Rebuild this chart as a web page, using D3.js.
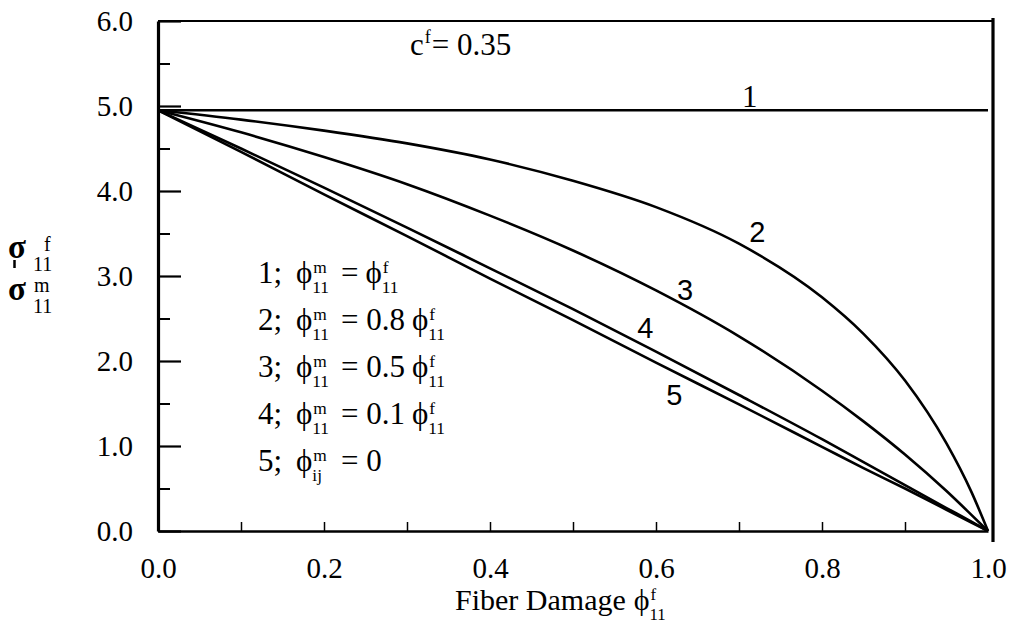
<!DOCTYPE html>
<html>
<head>
<meta charset="utf-8">
<script src="https://cdn.jsdelivr.net/npm/d3@7/dist/d3.min.js"></script>
<style>
  body { margin: 0; background: #fff; }
</style>
</head>
<body>
<div id="chart"></div>
<script>
// fiber damage values (x) at which the curves were read
const damage = [0, 0.1, 0.2, 0.3, 0.4, 0.5, 0.6, 0.7, 0.8, 0.85, 0.9, 0.95, 0.98, 1.0];

// stress ratio
const curve1 = [4.95, 4.95, 4.95, 4.95, 4.95, 4.95, 4.95, 4.95, 4.95, 4.95, 4.95, 4.95, 4.95, 4.95];
const curve2 = [4.95, 4.84, 4.71, 4.56, 4.37, 4.12, 3.81, 3.38, 2.75, 2.32, 1.77, 1.03, 0.46, 0];
const curve3 = [4.95, 4.69, 4.40, 4.08, 3.71, 3.30, 2.83, 2.29, 1.65, 1.29, 0.90, 0.47, 0.19, 0];
const curve4 = [4.95, 4.50, 4.04, 3.57, 3.09, 2.61, 2.11, 1.60, 1.08, 0.81, 0.54, 0.27, 0.11, 0];
const curve5 = [4.95, 4.46, 3.96, 3.47, 2.97, 2.48, 1.98, 1.49, 0.99, 0.74, 0.50, 0.25, 0.10, 0];
const curveNames = ['1', '2', '3', '4', '5'];

const yMajor = [0, 1, 2, 3, 4, 5, 6];
const yMinor = [0.5, 1.5, 2.5, 3.5, 4.5, 5.5];
const xLabels = [0, 0.2, 0.4, 0.6, 0.8, 1.0];
const xMinor = [0.1, 0.2, 0.3, 0.4, 0.5, 0.6, 0.7, 0.8, 0.9];

// legend rows
const legendNums = ['1;', '2;', '3;', '4;', '5;'];
const legendSub = ['11', '11', '11', '11', 'ij'];
const legendCoef = ['', '0.8', '0.5', '0.1', '0'];
const legendPhiF = [true, true, true, true, false];

const SERIF = '"Liberation Serif", "Times New Roman", serif';
const SANS = '"Liberation Sans", Arial, sans-serif';

const margin = { top: 21, right: 25, bottom: 103, left: 158 };
const W = 1013, H = 634;
const width = W - margin.left - margin.right;   // 830
const height = H - margin.top - margin.bottom;  // 510

const svg = d3.select('#chart').append('svg')
    .attr('width', W)
    .attr('height', H);

const g = svg.append('g')
    .attr('transform', `translate(${margin.left},${margin.top})`);

const x = d3.scaleLinear().domain([0, 1]).range([0, width]);
const y = d3.scaleLinear().domain([0, 6]).range([height, 0]);

function txt(parent, px, py, s, size, family) {
    return parent.append('text')
        .attr('x', px).attr('y', py)
        .style('font-family', family || SERIF)
        .style('font-size', size + 'px')
        .attr('fill', '#000')
        .text(s);
}

// frame: top line and heavy right line
g.append('line')
    .attr('x1', 0).attr('x2', width + 4)
    .attr('y1', 0).attr('y2', 0)
    .attr('stroke', '#000').attr('stroke-width', 2);
g.append('line')
    .attr('x1', width + 5).attr('x2', width + 5)
    .attr('y1', -3).attr('y2', height + 11)
    .attr('stroke', '#000').attr('stroke-width', 3.2);

// y axis
g.append('g')
    .attr('class', 'y axis')
    .call(d3.axisLeft(y).tickValues(yMajor).tickSize(-23).tickSizeOuter(0)
        .tickPadding(25).tickFormat(d3.format('.1f')))
    .attr('font-family', null)
    .call(a => a.select('.domain').attr('stroke-width', 3.2))
    .call(a => a.selectAll('.tick line').attr('stroke-width', 2.2))
    .call(a => a.selectAll('text').style('font-family', SERIF).style('font-size', '29px').attr('fill', '#000'));

g.append('g')
    .call(d3.axisLeft(y).tickValues(yMinor).tickSize(-12).tickSizeOuter(0).tickFormat(''))
    .call(a => a.select('.domain').remove())
    .call(a => a.selectAll('.tick line').attr('stroke-width', 2));

// x axis
g.append('g')
    .attr('class', 'x axis')
    .attr('transform', `translate(0,${height})`)
    .call(d3.axisBottom(x).tickValues(xLabels).tickSize(0).tickSizeOuter(0)
        .tickPadding(26).tickFormat(d3.format('.1f')))
    .attr('font-family', null)
    .call(a => a.select('.domain').attr('stroke-width', 2.4))
    .call(a => a.selectAll('text').style('font-family', SERIF).style('font-size', '29px').attr('fill', '#000'));

g.append('g')
    .attr('transform', `translate(0,${height})`)
    .call(d3.axisBottom(x).tickValues(xMinor).tickSize(-9).tickSizeOuter(0).tickFormat(''))
    .call(a => a.select('.domain').remove())
    .call(a => a.selectAll('.tick line').attr('stroke-width', 1.5));

// curves
const line = d3.line()
    .x((d, i) => x(damage[i]))
    .y(d => y(d))
    .curve(d3.curveMonotoneX);

[curve1, curve2, curve3, curve4, curve5].forEach(c => {
    g.append('path')
        .datum(c)
        .attr('fill', 'none')
        .attr('stroke', '#000')
        .attr('stroke-width', 2.6)
        .attr('d', line);
});

// curve labels
const labelPos = [[0.713, 4.99], [0.722, 3.4], [0.635, 2.72], [0.587, 2.27], [0.622, 1.48]];
curveNames.forEach((n, i) => {
    txt(g, x(labelPos[i][0]), y(labelPos[i][1]), n, i === 0 ? 31 : 29, i === 0 ? SERIF : SANS)
        .attr('text-anchor', 'middle');
});

// phi with stacked superscript and subscript, returns right edge
function phiTerm(parent, px, py, sup, sub, size) {
    const t = txt(parent, px, py, 'ϕ', size);
    const w = t.node().getComputedTextLength();
    const s = txt(parent, px + w + 1, py - size * 0.33, sup, size * 0.56);
    const b = txt(parent, px + w, py + size * 0.32, sub, size * 0.56);
    return px + w + Math.max(s.node().getComputedTextLength(), b.node().getComputedTextLength());
}

// legend block
const leg = svg.append('g');
legendNums.forEach((num, i) => {
    const by = 283 + i * 47;
    txt(leg, 258, by, num, 31);
    phiTerm(leg, 296, by, 'm', legendSub[i], 31);
    const eq = txt(leg, 341, by, '=' + (legendCoef[i] ? '\u00a0' + legendCoef[i] : ''), 31);
    const cx = 341 + eq.node().getComputedTextLength() + 7;
    if (legendPhiF[i]) phiTerm(leg, cx, by, 'f', '11', 31);
});

// c^f = 0.35
const cf = svg.append('g');
const cW = txt(cf, 410, 55, 'c', 31).node().getComputedTextLength();
const fW = txt(cf, 410 + cW + 1, 43, 'f', 18).node().getComputedTextLength();
txt(cf, 410 + cW + fW + 2, 55, '= 0.35', 31);

// x axis title
const xt = svg.append('g');
const xtW = txt(xt, 455, 610, 'Fiber Damage', 30).node().getComputedTextLength();
phiTerm(xt, 455 + xtW + 8, 610, 'f', '11', 30);

// y axis title: sigma_f over sigma_m
const yt = svg.append('g');
[['f', 258, 251, 44], ['m', 300, 292, 34]].forEach(([sup, by, sy, sx]) => {
    txt(yt, 8, by, 'σ', 33).style('font-weight', 'bold');
    txt(yt, sx, sy, sup, 20);
    txt(yt, 33, by + 13, '11', 20);
});
yt.append('line')
    .attr('x1', 14.5).attr('x2', 14.5).attr('y1', 260).attr('y2', 268)
    .attr('stroke', '#000').attr('stroke-width', 2.5);
</script>
</body>
</html>
